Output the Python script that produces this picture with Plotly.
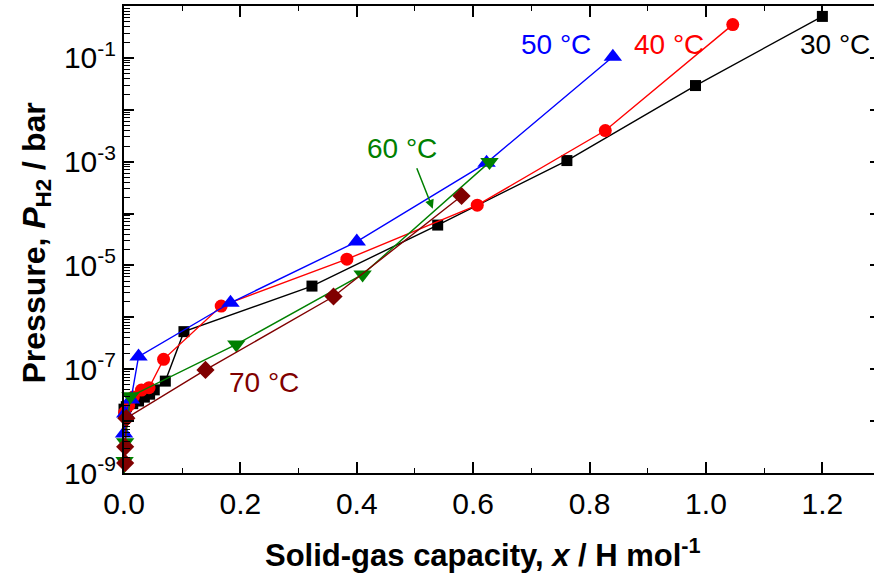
import math
import plotly.graph_objects as go

# ---- data ----
x30 = [0.000, 0.004, 0.015, 0.025, 0.035, 0.044, 0.052, 0.071, 0.103, 0.323, 0.539, 0.761, 0.982, 1.200]
p30 = [1.7e-8, 1.9e-8, 2.17e-8, 2.44e-8, 2.9e-8, 3.3e-8, 4.0e-8, 5.9e-8, 5.3e-7, 4.0e-6, 6.0e-5, 1.05e-3, 2.93e-2, 0.63]

x40 = [0.001, 0.008, 0.016, 0.030, 0.043, 0.068, 0.167, 0.383, 0.607, 0.827, 1.046]
p40 = [1.46e-8, 2.0e-8, 2.9e-8, 3.97e-8, 4.4e-8, 1.55e-7, 1.65e-6, 1.32e-5, 1.45e-4, 3.98e-3, 0.438]

x50 = [0.000, 0.002, 0.012, 0.025, 0.183, 0.400, 0.623, 0.840]
p50 = [5.8e-9, 1.4e-8, 2.6e-8, 1.75e-7, 1.91e-6, 2.88e-5, 9.5e-4, 0.105]

x60 = [0.000, 0.001, 0.002, 0.011, 0.193, 0.410, 0.628]
p60 = [7e-10, 1.7e-9, 3.9e-9, 3.0e-8, 3.0e-7, 6.7e-6, 9.8e-4]

x70 = [0.002, 0.002, 0.004, 0.140, 0.360, 0.580]
p70 = [1.55e-9, 3.2e-9, 1.14e-8, 9.7e-8, 2.52e-6, 2.18e-4]

series_names = ["30 °C", "40 °C", "50 °C", "60 °C", "70 °C"]
x_ticks = [0.0, 0.2, 0.4, 0.6, 0.8, 1.0, 1.2]
y_exponents = list(range(-9, 1))

# ---- styles ----
FONT = "Liberation Sans, Arial, sans-serif"
colors = ["#000000", "#ff0000", "#0000ff", "#008000", "#800000"]
symbols = ["square", "circle", "triangle-up", "triangle-down", "diamond"]
msizes = [11, 13, 16, 16, 14]
xs = [x30, x40, x50, x60, x70]
ps = [p30, p40, p50, p60, p70]

fig = go.Figure()
for xv, pv, c, s, ms, nm in zip(xs, ps, colors, symbols, msizes, series_names):
    fig.add_trace(go.Scatter(
        x=xv, y=pv, mode="lines+markers", name=nm,
        line=dict(color=c, width=1.4),
        marker=dict(symbol=s, size=ms, color=c, line=dict(width=0)),
        cliponaxis=False, showlegend=False,
    ))

# dummy trace so the right-hand tick stubs axis is drawn
fig.add_trace(go.Scatter(x=[None], y=[None], yaxis="y2", showlegend=False, hoverinfo="skip"))

x_minor = [round(0.1 + 0.2 * i, 2) for i in range(7)]
y_minor = [k * 10.0 ** e for e in range(-9, 0) for k in range(2, 10)]

fig.update_layout(
    width=874, height=575,
    margin=dict(l=124, r=0, t=6, b=102),
    paper_bgcolor="white", plot_bgcolor="white",
    font=dict(family=FONT, color="black"),
    xaxis=dict(
        range=[0, 1.2887], tickmode="array", tickvals=x_ticks,
        ticktext=[f"{v:.1f}" for v in x_ticks],
        ticks="inside", ticklen=11, tickwidth=1.5, tickcolor="black",
        showline=True, linewidth=2, linecolor="black", mirror="ticks",
        showgrid=False, zeroline=False, ticklabelstandoff=3,
        tickfont=dict(size=30, family=FONT),
        minor=dict(tickmode="array", tickvals=x_minor, ticks="inside", ticklen=5,
                   tickwidth=1.2, tickcolor="black", showgrid=False),
    ),
    yaxis=dict(
        type="log", range=[-9, 0], tickmode="array",
        tickvals=[10.0 ** e for e in y_exponents],
        ticktext=[f"10<sup>{e}</sup>" if e % 2 else "" for e in y_exponents],
        ticks="inside", ticklen=10, tickwidth=1.5, tickcolor="black",
        showline=True, linewidth=2, linecolor="black", mirror=False,
        showgrid=False, zeroline=False,
        tickfont=dict(size=30, family=FONT),
        minor=dict(tickmode="array", tickvals=y_minor, ticks="inside", ticklen=6,
                   tickwidth=1.2, tickcolor="black", showgrid=False),
    ),
    yaxis2=dict(
        type="log", range=[-9, 0], overlaying="y", side="right",
        tickmode="array", tickvals=[10.0 ** e for e in y_exponents],
        ticks="inside", ticklen=4, tickwidth=1.5, tickcolor="black",
        showticklabels=False, showline=False, showgrid=False, zeroline=False,
    ),
)

ann_font = dict(family=FONT, size=28)
labels = [
    ("50 °C", 0.742, -0.74, "#0000ff", "center"),
    ("40 °C", 0.937, -0.74, "#ff0000", "center"),
    ("30 °C", 1.158, -0.74, "#000000", "left"),
    ("60 °C", 0.4785, -2.75, "#008000", "center"),
    ("70 °C", 0.2414, -7.25, "#800000", "center"),
]
for txt, xx, yy, col, xa in labels:
    fig.add_annotation(x=xx, y=yy, xref="x", yref="y", text=txt, showarrow=False,
                       xanchor=xa, yanchor="middle", font=dict(color=col, **ann_font))

# arrow pointing to the 60 °C curve
fig.add_annotation(x=0.5306, y=math.log10(1.24e-4), xref="x", yref="y", text="",
                   showarrow=True, arrowhead=2, arrowsize=1.2, arrowwidth=1.5,
                   arrowcolor="#008000", ax=-16.6, ay=-42, standoff=0)

# axis titles
fig.add_annotation(x=0.478, y=0, xref="paper", yref="paper", yshift=-80,
                   text="<b>Solid-gas capacity, <i>x</i> / H mol<sup>-1</sup></b>",
                   showarrow=False, xanchor="center", yanchor="middle",
                   font=dict(family=FONT, size=31))
fig.add_annotation(x=0, y=0.5, xref="paper", yref="paper", xshift=-88, yshift=-4,
                   text="<b>Pressure, <i>P</i><sub>H2</sub> / bar</b>", textangle=-90,
                   showarrow=False, xanchor="center", yanchor="middle",
                   font=dict(family=FONT, size=32))

fig.write_html("out.html")
